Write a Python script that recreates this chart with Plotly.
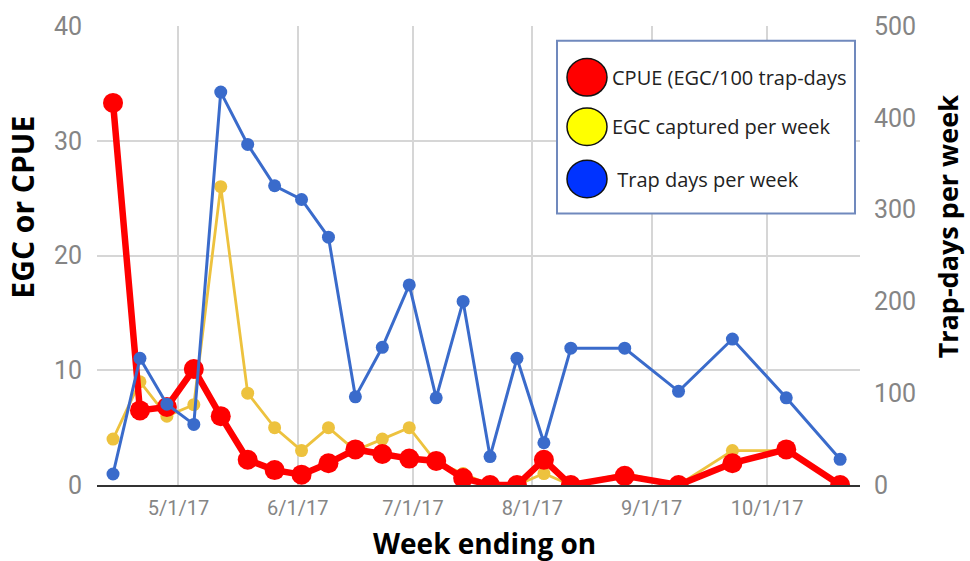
import plotly.graph_objects as go

# ---------------- data ----------------
week_ending = ["2017-04-14", "2017-04-21", "2017-04-28", "2017-05-05", "2017-05-12",
               "2017-05-19", "2017-05-26", "2017-06-02", "2017-06-09", "2017-06-16",
               "2017-06-23", "2017-06-30", "2017-07-07", "2017-07-14", "2017-07-21",
               "2017-07-28", "2017-08-04", "2017-08-11", "2017-08-25", "2017-09-08",
               "2017-09-22", "2017-10-06", "2017-10-20"]
trap_days = [12, 138, 88, 66, 428, 371, 326, 311, 270, 96, 150, 218, 95, 200, 31,
             138, 46, 149, 149, 102, 159, 95, 28]
egc_captured = [4, 9, 6, 7, 26, 8, 5, 3, 5, 3, 4, 5, 2, 1, 0, 0, 1, 0, 1, 0, 3, 3, 0]
cpue = [33.3, 6.5, 6.8, 10.1, 6.0, 2.2, 1.3, 0.9, 1.9, 3.1, 2.7, 2.3, 2.1, 0.6, 0,
        0, 2.2, 0, 0.8, 0, 1.9, 3.1, 0]

tick_dates = ["2017-05-01", "2017-06-01", "2017-07-01", "2017-08-01", "2017-09-01", "2017-10-01"]
tick_text = ["5/1/17", "6/1/17", "7/1/17", "8/1/17", "9/1/17", "10/1/17"]

legend_names = ["CPUE (EGC/100 trap-days", "EGC captured per week", " Trap days per week"]
legend_colors = ["#FF0000", "#FFFF00", "#0033FF"]

# ---------------- layout geometry ----------------
W, H = 970, 561
L, R, T, B = 97, 860, 20, 485


def px(x):
    return (x - L) / (R - L)


def py(y):
    return (B - y) / (B - T)


TICK_FONT = dict(family="Roboto", size=25, color="#858585")
GRID = "#D6D6D6"

fig = go.Figure()

fig.add_trace(go.Scatter(
    x=week_ending, y=trap_days, name=legend_names[2], yaxis="y2",
    mode="lines+markers", line=dict(color="#3A6BCB", width=3),
    marker=dict(color="#3A6BCB", size=13), showlegend=False))
fig.add_trace(go.Scatter(
    x=week_ending, y=egc_captured, name=legend_names[1], yaxis="y",
    mode="lines+markers", line=dict(color="#EDC23E", width=2.8),
    marker=dict(color="#EDC23E", size=13), showlegend=False))
fig.add_trace(go.Scatter(
    x=week_ending, y=cpue, name=legend_names[0], yaxis="y",
    mode="lines+markers", line=dict(color="#FF0000", width=6.5),
    marker=dict(color="#FF0000", size=20), showlegend=False))

shapes = []
annotations = []

# custom legend box
shapes.append(dict(type="rect", xref="paper", yref="paper",
                   x0=px(557), x1=px(855), y0=py(210), y1=py(35),
                   line=dict(color="#7089BD", width=2), fillcolor="white", layer="above"))
legend_y = [72, 122, 175]
for name, col, yy in zip(legend_names, legend_colors, legend_y):
    shapes.append(dict(type="circle", xref="paper", yref="paper",
                       x0=px(567), x1=px(607), y0=py(yy + 19), y1=py(yy - 19),
                       line=dict(color="#111111", width=1.5), fillcolor=col, layer="above"))
    annotations.append(dict(xref="paper", yref="paper", x=px(610), y=py(yy),
                            xanchor="left", yanchor="middle", showarrow=False,
                            text=name, font=dict(family="Open Sans", size=20, color="#222222")))

# axis titles
annotations.append(dict(xref="paper", yref="paper", x=px(23), y=py(204),
                        xanchor="center", yanchor="middle", showarrow=False, textangle=-90,
                        text="<b>EGC or CPUE</b>",
                        font=dict(family="Open Sans", size=30, color="#000000")))
annotations.append(dict(xref="paper", yref="paper", x=px(947), y=py(224),
                        xanchor="center", yanchor="middle", showarrow=False, textangle=-90,
                        text="<b>Trap-days per week</b>",
                        font=dict(family="Open Sans", size=27, color="#000000")))
annotations.append(dict(xref="paper", yref="paper", x=px(484), y=py(544),
                        xanchor="center", yanchor="middle", showarrow=False,
                        text="<b>Week ending on</b>",
                        font=dict(family="Open Sans", size=28, color="#000000")))

fig.update_layout(
    width=W, height=H,
    margin=dict(l=L, r=W - R, t=T, b=H - B, pad=0),
    paper_bgcolor="white", plot_bgcolor="white",
    showlegend=False,
    xaxis=dict(type="date", range=["2017-04-09 20:00", "2017-10-25 04:00"],
               tickvals=tick_dates, ticktext=tick_text,
               tickfont=dict(family="Roboto", size=20, color="#858585"),
               showgrid=True, gridcolor=GRID, gridwidth=2,
               showline=True, linecolor="#333333", linewidth=2,
               ticks="", ticklabelstandoff=4, zeroline=False),
    yaxis=dict(range=[0, 40], dtick=10, tickfont=TICK_FONT,
               showgrid=True, gridcolor=GRID, gridwidth=2,
               zeroline=False, showline=False, ticks="", ticklabelstandoff=14),
    yaxis2=dict(range=[0, 500], dtick=100, tickfont=TICK_FONT, overlaying="y", side="right",
                showgrid=False, zeroline=False, showline=False, ticks="", ticklabelstandoff=13),
    shapes=shapes, annotations=annotations,
)

fig.write_html("out.html", config={"displayModeBar": False},
               post_script="document.body.style.margin='0px';document.body.style.padding='0px';")
